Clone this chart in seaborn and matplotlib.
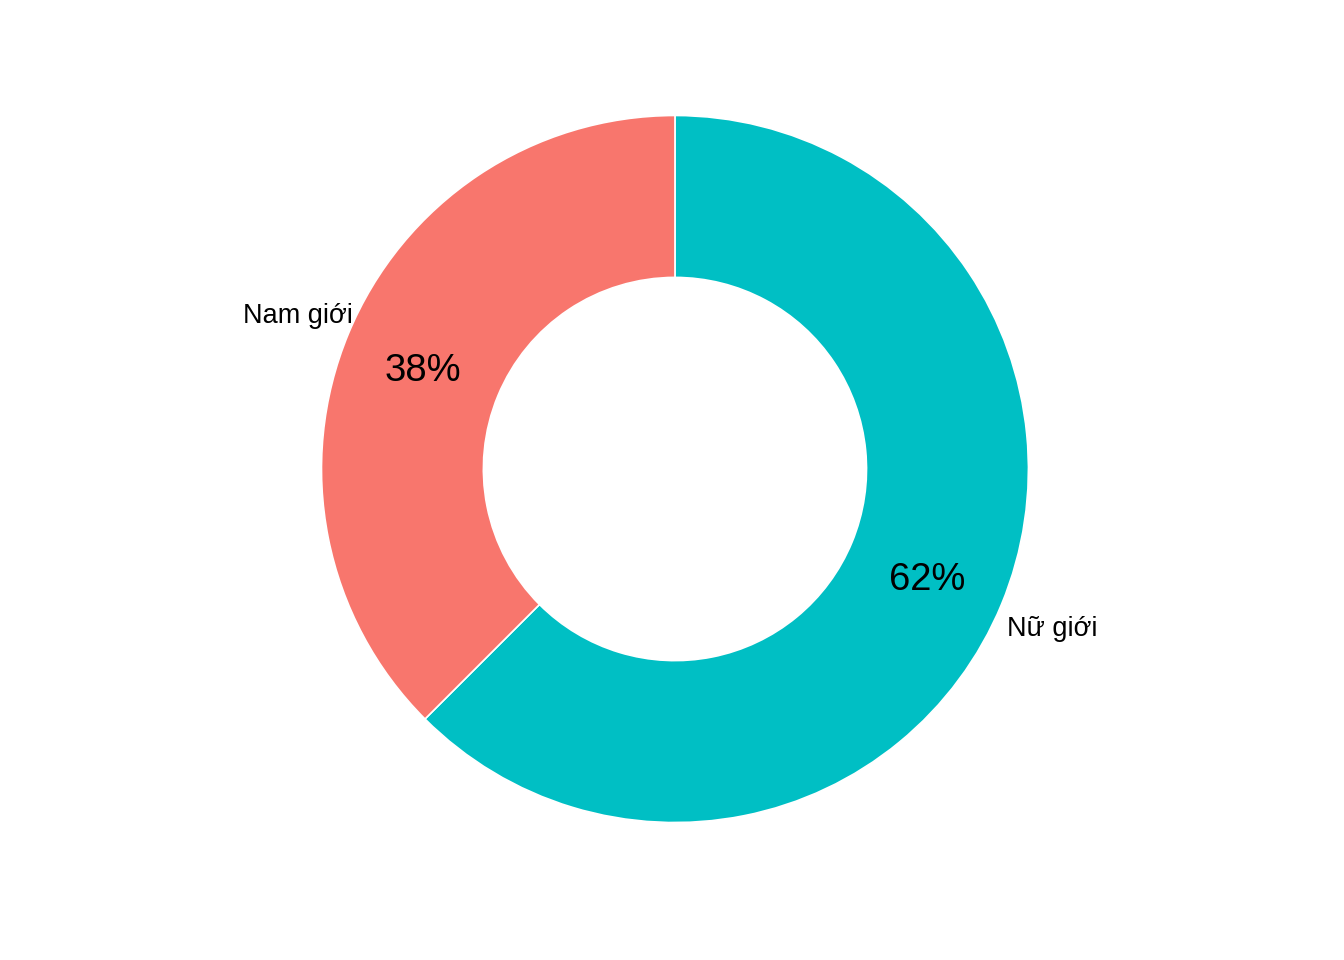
import matplotlib
matplotlib.use("Agg")
import matplotlib.pyplot as plt
import numpy as np
import seaborn as sns

# data
groups = ["Nữ giới", "Nam giới"]
shares = [62.5, 37.5]
pct_labels = ["62%", "38%"]
colors = ["#00BFC4", "#F8766D"]

sns.set_theme(style="white")
plt.rcParams["font.family"] = ["Liberation Sans", "DejaVu Sans"]

fig = plt.figure(figsize=(13.44, 9.6), dpi=100)
# axis box so that the ring is centred where the original is
ax = fig.add_axes([0.2392, 0.1432, 0.526, 0.7365])

wedges, _ = ax.pie(
    shares,
    colors=sns.color_palette(colors),
    startangle=90,
    counterclock=False,
    radius=1.0,
    wedgeprops=dict(width=0.458, edgecolor="white", linewidth=1.2),
)
ax.set_xlim(-1, 1)
ax.set_ylim(-1, 1)
ax.set_aspect("auto")
ax.axis("off")

# percentage labels in the middle of the ring, group names just outside
for w, grp, pct in zip(wedges, groups, pct_labels):
    mid = np.deg2rad((w.theta1 + w.theta2) / 2)
    cx, cy = np.cos(mid), np.sin(mid)
    ax.annotate(pct, (0.771 * cx, 0.771 * cy), xytext=(0, -4.5),
                textcoords="offset points",
                ha="center", va="center", fontsize=27.5, color="black")
    ha = "left" if cx > 0 else "right"
    # push the name outward and away from the centre line, like coord_polar
    off = (4 if cx > 0 else 3, -18 if cy < 0 else 13)
    ax.annotate(grp, (cx, cy), xytext=off, textcoords="offset points",
                ha=ha, va="center", fontsize=19.5, color="black")

fig.savefig("out.png", dpi=100)
